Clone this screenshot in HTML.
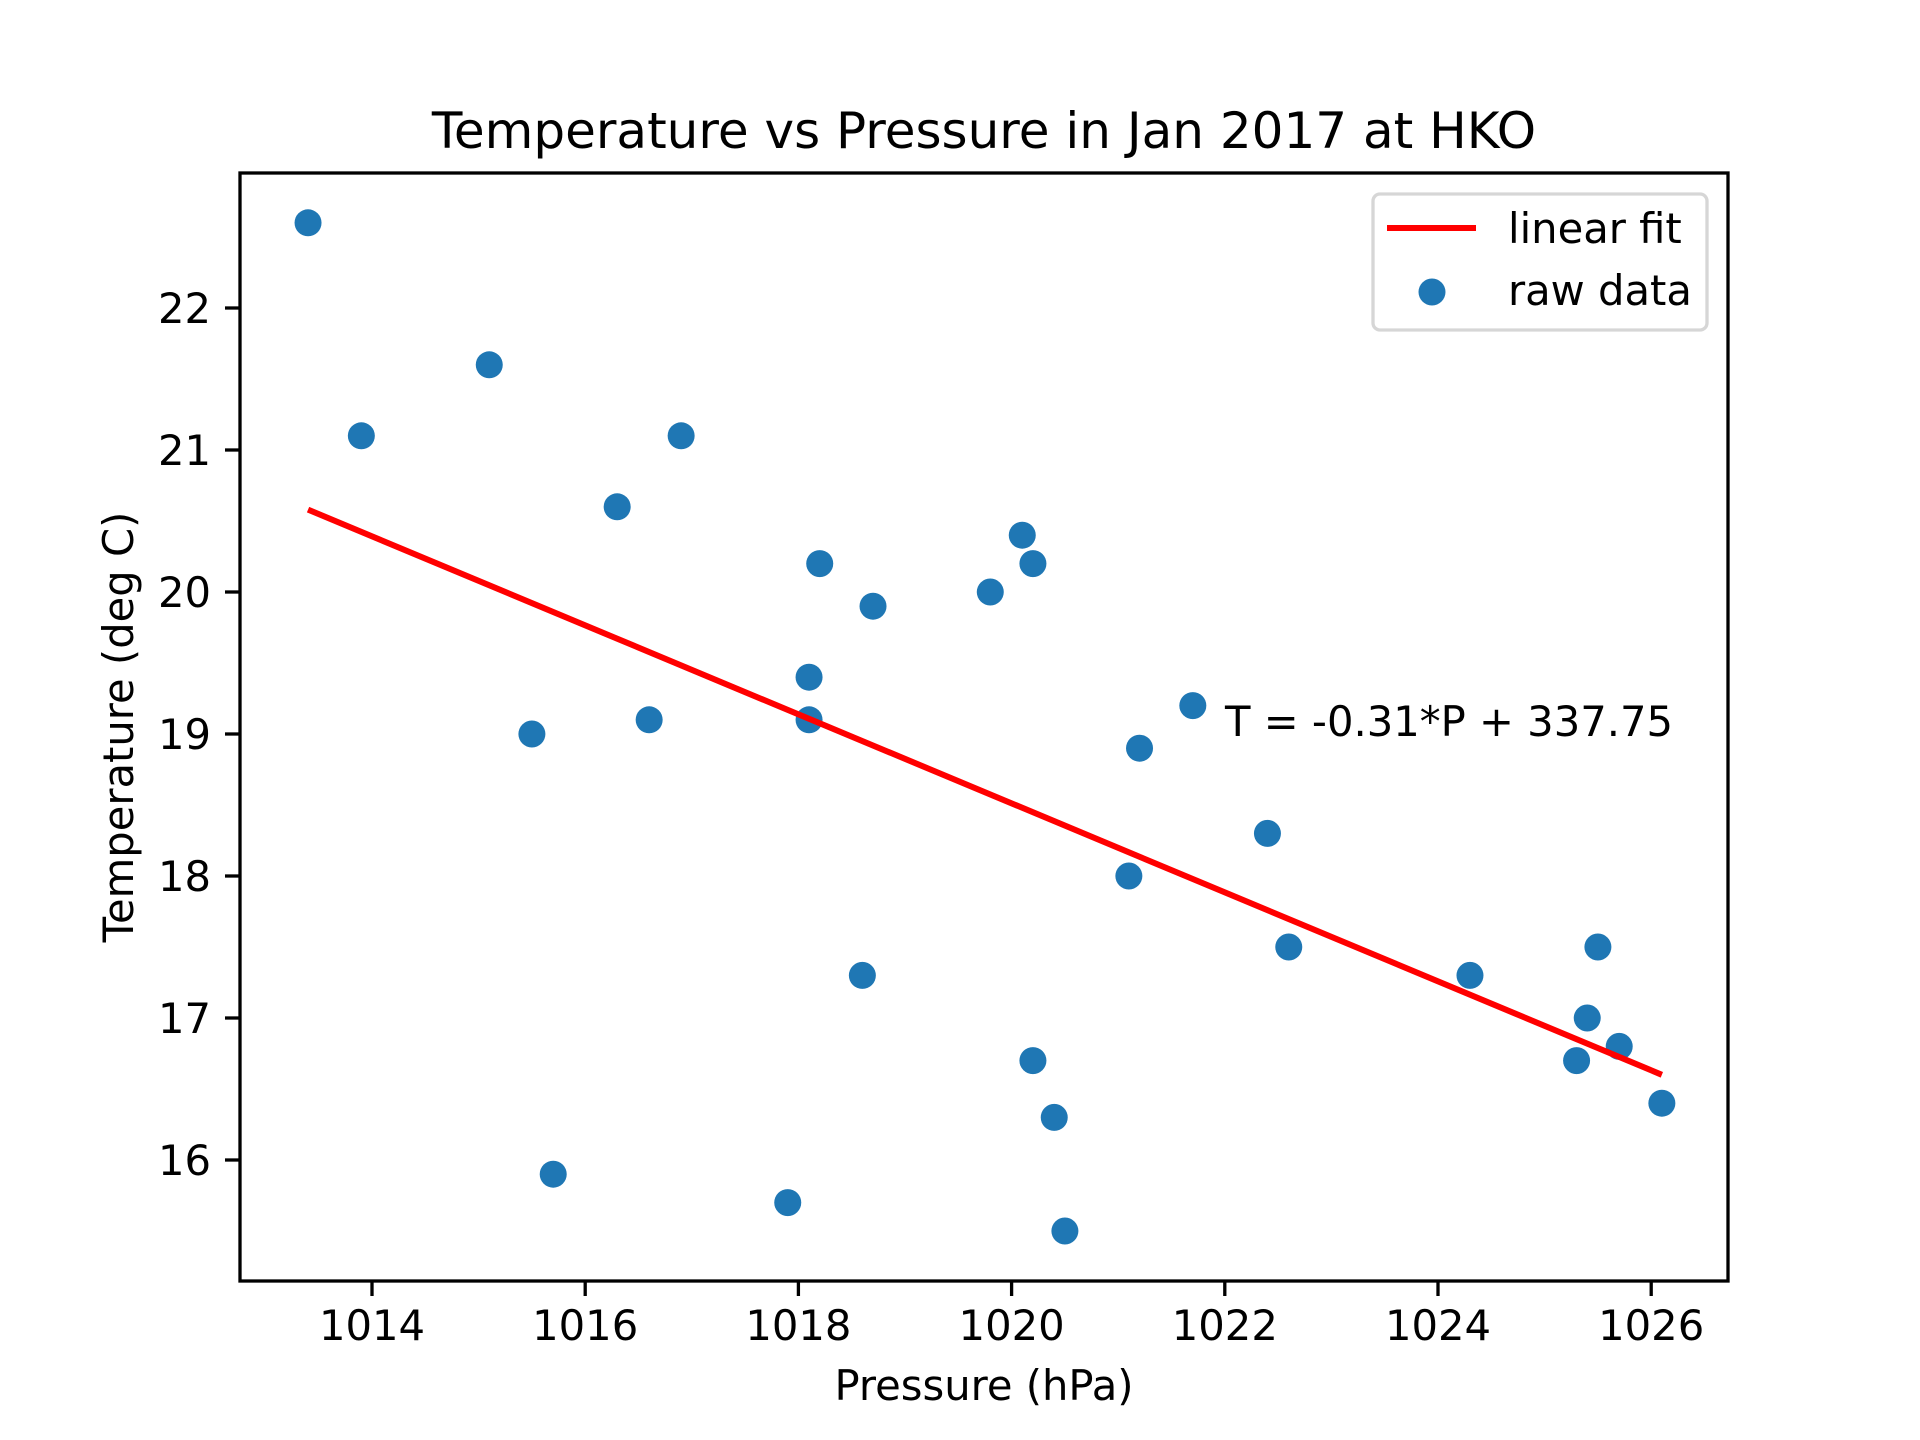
<!DOCTYPE html>
<html><head><meta charset="utf-8"><style>body{margin:0;background:#fff}svg{display:block}text{font-family:"DejaVu Sans","Liberation Sans",sans-serif;fill:#000}</style></head>
<body>
<svg id="chart" width="1920" height="1440" viewBox="0 0 1920 1440" xmlns="http://www.w3.org/2000/svg">
<rect width="1920" height="1440" fill="#fff"/>
<text x="984" y="148" font-size="50" text-anchor="middle">Temperature vs Pressure in Jan 2017 at HKO</text>
<g id="grid"></g>
<g id="points"></g>
<g id="fit"></g>
<rect x="240" y="173" width="1488" height="1108" fill="none" stroke="#000" stroke-width="3.3"/>
<g id="xticks"></g>
<g id="yticks"></g>
<text x="984" y="1400" font-size="41.7" text-anchor="middle">Pressure (hPa)</text>
<text transform="translate(133,727) rotate(-90)" font-size="41.7" text-anchor="middle">Temperature (deg C)</text>
<text x="1225" y="736" font-size="41.7">T = -0.31*P + 337.75</text>
<g>
<rect x="1373" y="194" width="334" height="136" rx="7" fill="#fff" fill-opacity="0.8" stroke="#d6d6d6" stroke-width="3.3"/>
<line x1="1387" y1="228" x2="1476" y2="228" stroke="#ff0000" stroke-width="6"/>
<text x="1508" y="243" font-size="41.7">linear fit</text>
<circle cx="1432" cy="292" r="13.5" fill="#1f77b4"/>
<text x="1508" y="305" font-size="41.7">raw data</text>
</g>
</svg>
<script>
const pressures=[1013.4,1013.9,1015.1,1015.5,1015.7,1016.3,1016.6,1016.9,1017.9,1018.1,1018.1,1018.2,1018.6,1018.7,1019.8,1020.1,1020.2,1020.2,1020.4,1020.5,1021.1,1021.2,1021.7,1022.4,1022.6,1024.3,1025.3,1025.4,1025.5,1025.7,1026.1];
const temps=[22.6,21.1,21.6,19.0,15.9,20.6,19.1,21.1,15.7,19.4,19.1,20.2,17.3,19.9,20.0,20.4,20.2,16.7,16.3,15.5,18.0,18.9,19.2,18.3,17.5,17.3,16.7,17.0,17.5,16.8,16.4];
const fitX=[1013.4,1026.1];
const fitY=[20.58,16.6];
const xTicks=[1014,1016,1018,1020,1022,1024,1026];
const yTicks=[16,17,18,19,20,21,22];
const NS="http://www.w3.org/2000/svg";
function xs(v){return 372+(v-1014)*106.6;}
function ys(v){return 1160-(v-16)*142;}
function mk(tag,attrs,parent){const e=document.createElementNS(NS,tag);for(const k in attrs)e.setAttribute(k,attrs[k]);document.getElementById(parent).appendChild(e);return e;}
pressures.forEach((p,i)=>{
 const c=mk('circle',{cx:xs(p),cy:ys(temps[i]),r:13.5,fill:'#1f77b4'},'points');
 
 
});
const l=mk('line',{x1:xs(fitX[0]),y1:ys(fitY[0]),x2:xs(fitX[1]),y2:ys(fitY[1]),stroke:'#ff0000','stroke-width':6},'fit');


xTicks.forEach(t=>{
 const x=xs(t);
 const tk=mk('line',{x1:x,y1:1281,x2:x,y2:1296,stroke:'#000','stroke-width':3.3},'xticks');
 
 
 const tx=mk('text',{x:x,y:1340,'font-size':41.7,'text-anchor':'middle'},'xticks');
 tx.textContent=t;
 
 
});
yTicks.forEach(t=>{
 const y=ys(t);
 const tk=mk('line',{x1:225,y1:y,x2:240,y2:y,stroke:'#000','stroke-width':3.3},'yticks');
 
 
 const tx=mk('text',{x:211,y:y+15,'font-size':41.7,'text-anchor':'end'},'yticks');
 tx.textContent=t;
 
 
});
</script>
</body></html>
